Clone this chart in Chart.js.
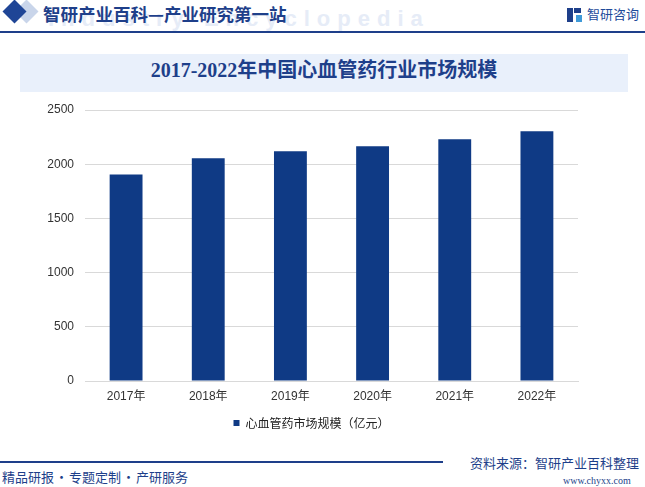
<!DOCTYPE html>
<html><head><meta charset="utf-8">
<script src="https://cdn.jsdelivr.net/npm/chart.js@4"></script>
<style>
html,body{margin:0;padding:0;background:#fff;}
#page{position:relative;width:645px;height:487px;overflow:hidden;background:#fff;font-family:"Noto Sans CJK SC","Liberation Sans",sans-serif;}
.abs{position:absolute;white-space:nowrap;}
.dot{display:inline-block;width:15px;text-align:center;}
</style></head><body>
<div id="page">
  <div class="abs" style="left:18px;top:3px;width:17px;height:17px;background:#c9d5ea;transform:rotate(45deg);"></div>
  <div class="abs" style="left:6px;top:3px;width:17px;height:17px;background:#1f4596;transform:rotate(45deg);"></div>
  <div class="abs" style="left:48px;top:6px;font:bold 22px 'Liberation Sans',sans-serif;color:#e6ecf7;letter-spacing:7px;">Industry Encyclopedia</div>
  <div class="abs" style="left:43px;top:1px;font:bold 17.5px 'Noto Sans CJK SC';color:#1e3f8a;line-height:26px;">智研产业百科—产业研究第一站</div>
  <div class="abs" style="left:567px;top:8px;width:6px;height:14px;background:#1e3f8a;"></div>
  <div class="abs" style="left:574px;top:8px;width:7px;height:5px;background:#1e3f8a;"></div>
  <div class="abs" style="left:576px;top:15px;width:6px;height:7px;background:#3f9ad8;"></div>
  <div class="abs" style="left:587px;top:4px;font:13px 'Noto Sans CJK SC';color:#1e4a9a;line-height:20px;">智研咨询</div>
  <div class="abs" style="left:0;top:31px;width:645px;height:2px;background:#1e3f8a;"></div>
  <div class="abs" style="left:20px;top:54px;width:608px;height:38px;background:#e9f0fb;"></div>
  <div class="abs" style="left:20px;top:54px;width:608px;height:38px;line-height:38px;text-align:center;font:bold 20px 'Liberation Serif','Noto Sans CJK SC';color:#1e3f8a;">2017-2022年中国心血管药行业市场规模</div>
  <div class="abs" style="left:0;top:461px;width:443px;height:2px;background:#1e3f8a;"></div>
  <div class="abs" style="left:2px;top:468px;font:13px 'Noto Sans CJK SC';color:#1e3f8a;line-height:18px;">精品研报<span class="dot">·</span>专题定制<span class="dot">·</span>产研服务</div>
  <div class="abs" style="left:470px;top:454px;font:13px 'Noto Sans CJK SC';color:#1e3f8a;line-height:18px;">资料来源：智研产业百科整理</div>
  <div class="abs" style="left:563px;top:474px;font:10px 'Liberation Serif',serif;color:#1e3f8a;line-height:14px;">www.chyxx.com</div>
  <div class="abs" style="left:0;top:0;width:645px;height:487px;"><canvas id="c" width="645" height="487"></canvas></div>
</div>
<script>
const categories = ["2017年","2018年","2019年","2020年","2021年","2022年"];
const marketSize = [1905, 2055, 2120, 2165, 2230, 2305];
const seriesName = "心血管药市场规模（亿元）";
const yTicks = [0, 500, 1000, 1500, 2000, 2500];

new Chart(document.getElementById('c'), {
  type: 'bar',
  data: {
    labels: categories,
    datasets: [{
      label: seriesName,
      data: marketSize,
      backgroundColor: '#0f3a85',
      borderWidth: 0,
      categoryPercentage: 0.8,
      barPercentage: 0.5
    }]
  },
  options: {
    responsive: false,
    animation: false,
    devicePixelRatio: 1,
    layout: { padding: { top: 110, left: 45, right: 67, bottom: 48 } },
    plugins: {
      tooltip: { enabled: false },
      legend: {
        position: 'bottom',
        labels: {
          boxWidth: 6, boxHeight: 6, padding: 8,
          color: '#222',
          font: { size: 12, family: "'Noto Sans CJK SC','Liberation Sans'" }
        }
      }
    },
    scales: {
      x: {
        grid: { display: false, drawTicks: false },
        border: { display: true, color: '#d9d9d9', width: 1 },
        ticks: { color: '#333', padding: 8, font: { size: 12, family: "'Liberation Sans','Noto Sans CJK SC'" } },
        afterFit: s => { s.height = 28; }
      },
      y: {
        min: 0, max: 2500,
        afterBuildTicks: s => { s.ticks = yTicks.map(v => ({ value: v })); },
        grid: { color: '#d9d9d9', drawTicks: false },
        border: { display: false },
        ticks: { color: '#333', padding: 11, font: { size: 12, family: "'Liberation Sans'" }, callback: v => String(v) },
        afterFit: s => { s.width = 40; }
      }
    }
  }
});
</script>
</body></html>
